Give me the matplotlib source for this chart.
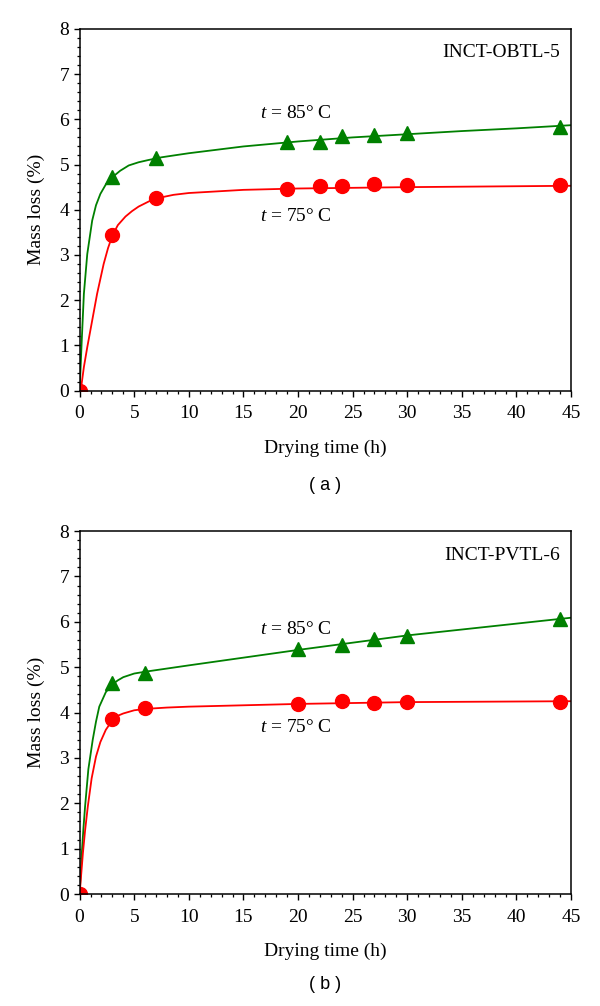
import numpy as np
import matplotlib
matplotlib.use("Agg")
import matplotlib.pyplot as plt
from matplotlib.ticker import MultipleLocator

plt.rcParams['font.family'] = ['Liberation Serif', 'DejaVu Serif']
plt.rcParams['mathtext.fontset'] = 'custom'
plt.rcParams['mathtext.it'] = 'Liberation Serif:italic'
plt.rcParams['mathtext.rm'] = 'Liberation Serif'

green = '#008000'
red = '#ff0000'

# panel (a) INCT-OBTL-5 measured points
a_t85 = [0, 3, 7, 19, 22, 24, 27, 30, 44]
a_m85 = [0, 4.73, 5.14, 5.50, 5.50, 5.64, 5.66, 5.70, 5.84]
a_t75 = [0, 3, 7, 19, 22, 24, 27, 30, 44]
a_m75 = [0, 3.44, 4.26, 4.45, 4.52, 4.53, 4.56, 4.55, 4.54]
# panel (a) fitted curves
a_ct85 = [0, 0.18, 0.39, 0.7, 1.15, 1.5, 1.9, 2.4, 3, 3.7, 4.5, 5.4, 6.3, 7.5, 8.6,
          10, 15, 20, 25, 30, 35, 40, 45]
a_cm85 = [0, 1.03, 2.14, 3.02, 3.76, 4.10, 4.35, 4.56, 4.72, 4.86, 4.98, 5.05, 5.10,
          5.16, 5.20, 5.25, 5.40, 5.51, 5.60, 5.67, 5.74, 5.80, 5.87]
a_ct75 = [0, 0.1, 0.39, 0.7, 1.15, 1.6, 2.2, 2.6, 3, 3.5, 4.2, 4.8, 5.4, 6.8, 8.6,
          10, 15, 20, 30, 45]
a_cm75 = [0, 0, 0.52, 0.96, 1.55, 2.14, 2.8, 3.15, 3.43, 3.66, 3.85, 3.97, 4.07,
          4.24, 4.33, 4.37, 4.44, 4.47, 4.50, 4.53]

# panel (b) INCT-PVTL-6 measured points
b_t85 = [0, 3, 6, 20, 24, 27, 30, 44]
b_m85 = [0, 4.65, 4.88, 5.40, 5.48, 5.63, 5.69, 6.06]
b_t75 = [0, 3, 6, 20, 24, 27, 30, 44]
b_m75 = [0, 3.85, 4.09, 4.18, 4.25, 4.22, 4.23, 4.24]
# panel (b) fitted curves
b_ct85 = [0, 0.1, 0.2, 0.35, 0.5, 0.8, 1.2, 1.5, 1.8, 2.4, 3, 3.5, 4, 5, 6, 8, 10,
          20, 30, 45]
b_cm85 = [0, 0.45, 0.9, 1.45, 1.93, 2.75, 3.4, 3.8, 4.13, 4.45, 4.62, 4.71, 4.78,
          4.86, 4.90, 4.97, 5.04, 5.38, 5.70, 6.09]
b_ct75 = [0, 0.15, 0.3, 0.5, 0.75, 1.1, 1.5, 1.9, 2.4, 3, 3.5, 4, 5, 6, 8, 10, 20,
          30, 45]
b_cm75 = [0, 0.45, 0.9, 1.4, 1.93, 2.55, 3.03, 3.35, 3.62, 3.83, 3.93, 3.98, 4.05,
          4.08, 4.11, 4.13, 4.19, 4.23, 4.25]

panels = [
    (a_t85, a_m85, a_t75, a_m75, a_ct85, a_cm85, a_ct75, a_cm75,
     'INCT-OBTL-5', 6.12, 3.84, '( a )', 0.517),
    (b_t85, b_m85, b_t75, b_m75, b_ct85, b_cm85, b_ct75, b_cm75,
     'INCT-PVTL-6', 5.84, 3.68, '( b )', 0.021),
]

fig = plt.figure(figsize=(6, 10.06), dpi=100)
rects = [[0.1327, 0.6117, 0.8190, 0.3596], [0.1327, 0.1113, 0.8190, 0.3608]]

for rect, p in zip(rects, panels):
    t85, m85, t75, m75, ct85, cm85, ct75, cm75, name, y85, y75, tag, ytag = p
    ax = fig.add_axes(rect)
    ax.plot(ct85, cm85, color=green, lw=1.3)
    ax.plot(ct75, cm75, color=red, lw=1.3)
    ax.plot(t85, m85, '^', color=green, ms=10.5, mec=green)
    ax.plot(t75, m75, 'o', color=red, ms=10, mec=red)
    ax.set_xlim(0, 45)
    ax.set_ylim(0, 8)
    ax.xaxis.set_major_locator(MultipleLocator(5))
    ax.xaxis.set_minor_locator(MultipleLocator(1))
    ax.yaxis.set_major_locator(MultipleLocator(1))
    ax.yaxis.set_minor_locator(MultipleLocator(0.2))
    ax.tick_params(which='major', direction='out', length=4.5, width=1,
                   labelsize=14, pad=3, top=False, right=False)
    ax.tick_params(axis='x', which='major', pad=6)
    ax.tick_params(which='minor', direction='out', length=2.5, width=0.9,
                   top=False, right=False)
    for s in ax.spines.values():
        s.set_linewidth(1.1)
    ax.set_xlabel('Drying time (h)', fontsize=14)
    ax.set_ylabel('Mass loss (%)', fontsize=14)
    ax.xaxis.set_label_coords(0.5, -0.135)
    ax.yaxis.set_label_coords(-0.071, 0.5)
    ax.text(44.0, 7.47, name, ha='right', va='center', fontsize=14)
    ax.text(19.8, y85, '$t$ = 85\u00b0\u2009C', ha='center', va='center', fontsize=14)
    ax.text(19.8, y75, '$t$ = 75\u00b0\u2009C', ha='center', va='center', fontsize=14)
    fig.text(0.5417, ytag, tag, ha='center', va='center',
             fontsize=13, family=['Liberation Sans', 'DejaVu Sans'])

fig.savefig('out.png', dpi=100)
